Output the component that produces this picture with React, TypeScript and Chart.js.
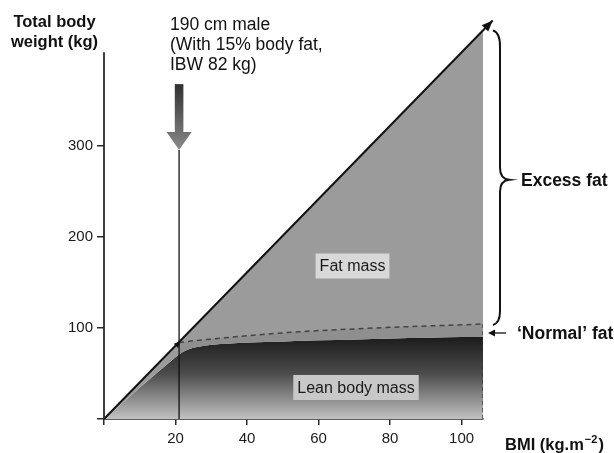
import { useEffect, useRef } from 'react';
import { Chart, registerables } from 'chart.js';

Chart.register(...registerables);

const FONT = '"Liberation Sans", Arial, Helvetica, sans-serif';

// Axis ticks
const xTicks = [0, 20, 40, 60, 80, 100];
const yTicks = [0, 100, 200, 300];
const yAxisEnd = 403;

// Lean body mass curve (BMI -> kg)
const leanBmi = [0, 5, 10, 15, 19, 21, 23, 26, 30, 35, 40, 50, 60, 70, 80, 90, 100, 106];
const leanKg = [0, 17, 34.5, 51.5, 64.5, 71, 75.5, 79, 81.5, 83, 84, 85.3, 86.5, 87.5, 88.4, 89.2, 90, 90.4];

// 'Normal' fat upper boundary (dashed)
const normalFatBmi = [21, 25, 30, 40, 55, 70, 85, 100, 106];
const normalFatKg = [84, 86, 87.8, 91.5, 96, 99, 101.5, 103.5, 104.4];

// Total body weight (fat mass upper edge)
const totalBmi = [0, 106];
const totalKg = [0, 427];

// Diagonal arrow line
const diagonalBmi = [0, 108.7];
const diagonalKg = [0, 438];

// 190 cm male marker
const markerBmi = [21, 21];
const markerKg = [0, 295.5];

// Right dashed edge of the lean region
const edgeBmi = [106, 106];
const edgeKg = [104.4, 0];

const pts = (xs: number[], ys: number[]) => xs.map((x, i) => ({ x, y: ys[i] }));

const annotations = {
  id: 'annotations',
  afterDraw(chart: any) {
    const { ctx, scales } = chart;
    const xs = scales.x;
    const ys = scales.y;
    const X = (v: number) => xs.getPixelForValue(v);
    const Y = (v: number) => ys.getPixelForValue(v);
    ctx.save();

    // y axis line
    ctx.strokeStyle = '#2a2a2a';
    ctx.lineWidth = 1.8;
    ctx.beginPath();
    ctx.moveTo(X(0), Y(0) + 0.9);
    ctx.lineTo(X(0), Y(yAxisEnd));
    ctx.stroke();

    // arrowhead on diagonal
    const dm = chart.getDatasetMeta(0).data;
    const p0 = dm[0];
    const p1 = dm[dm.length - 1];
    const ang = Math.atan2(p1.y - p0.y, p1.x - p0.x);
    const drawHead = (tx: number, ty: number, a: number, len: number, hw: number) => {
      ctx.beginPath();
      ctx.moveTo(tx, ty);
      ctx.lineTo(tx - len * Math.cos(a) + hw * Math.sin(a), ty - len * Math.sin(a) - hw * Math.cos(a));
      ctx.lineTo(tx - len * Math.cos(a) - hw * Math.sin(a), ty - len * Math.sin(a) + hw * Math.cos(a));
      ctx.closePath();
      ctx.fill();
    };
    ctx.fillStyle = '#111';
    drawHead(p1.x, p1.y, ang, 11, 4.5);

    // small marker at start of normal fat line
    drawHead(X(normalFatBmi[0]) + 1, Y(normalFatKg[0]) - 1, ang, 6, 3);

    // big grey arrow above 190 cm marker
    const ax = X(markerBmi[0]);
    const tipY = Y(markerKg[1]);
    const headTop = tipY - 18;
    const shaftTop = tipY - 66;
    const sg = ctx.createLinearGradient(0, shaftTop, 0, headTop);
    sg.addColorStop(0, '#303030');
    sg.addColorStop(1, '#727272');
    ctx.fillStyle = sg;
    ctx.fillRect(ax - 4.3, shaftTop, 8.6, headTop - shaftTop + 1);
    const hg = ctx.createLinearGradient(0, headTop, 0, tipY);
    hg.addColorStop(0, '#707070');
    hg.addColorStop(1, '#8c8c8c');
    ctx.fillStyle = hg;
    ctx.beginPath();
    ctx.moveTo(ax - 12.5, headTop);
    ctx.lineTo(ax + 12.5, headTop);
    ctx.lineTo(ax, tipY);
    ctx.closePath();
    ctx.fill();

    // brace for excess fat
    const bx = X(106) + 17;
    const bTop = Y(totalKg[1]);
    const bBot = Y(normalFatKg[normalFatKg.length - 1]) + 1;
    const bMid = (bTop + bBot) / 2 + 2;
    ctx.strokeStyle = '#111';
    ctx.lineWidth = 2;
    ctx.beginPath();
    ctx.moveTo(bx - 7, bTop);
    ctx.quadraticCurveTo(bx, bTop + 2, bx, bTop + 16);
    ctx.lineTo(bx, bMid - 12);
    ctx.quadraticCurveTo(bx, bMid - 1, bx + 9, bMid);
    ctx.quadraticCurveTo(bx, bMid + 1, bx, bMid + 12);
    ctx.lineTo(bx, bBot - 14);
    ctx.quadraticCurveTo(bx, bBot - 2, bx - 7, bBot);
    ctx.stroke();

    // arrow to 'Normal' fat
    const ny = 333;
    ctx.lineWidth = 1.3;
    ctx.beginPath();
    ctx.moveTo(X(106) + 23, ny);
    ctx.lineTo(X(106) + 8, ny);
    ctx.stroke();
    ctx.fillStyle = '#111';
    drawHead(X(106) + 5, ny, Math.PI, 7, 3.5);

    // texts
    ctx.fillStyle = '#111';
    ctx.textBaseline = 'alphabetic';
    ctx.font = `bold 16.5px ${FONT}`;
    ctx.textAlign = 'center';
    ctx.fillText('Total body', 54.5, 27);
    ctx.fillText('weight (kg)', 54.5, 46.5);

    ctx.textAlign = 'left';
    ctx.font = `17.5px ${FONT}`;
    ctx.fillText('190 cm male', 170, 29.5);
    ctx.fillText('(With 15% body fat,', 170, 49.5);
    ctx.fillText('IBW 82 kg)', 170, 69.5);

    ctx.font = `bold 17.5px ${FONT}`;
    ctx.fillText('Excess fat', 521, 186);
    ctx.fillText('\u2018Normal\u2019 fat', 517, 339);

    ctx.font = `bold 16.5px ${FONT}`;
    let tx = 505;
    ctx.fillText('BMI (kg.m', tx, 450);
    tx += ctx.measureText('BMI (kg.m').width + 1;
    ctx.font = `bold 11px ${FONT}`;
    ctx.fillText('\u22122', tx, 443);
    tx += ctx.measureText('\u22122').width + 1;
    ctx.font = `bold 16.5px ${FONT}`;
    ctx.fillText(')', tx, 450);

    // boxed region labels
    const boxLabel = (text: string, cx: number, cy: number, fill: string) => {
      ctx.font = `16px ${FONT}`;
      const w = ctx.measureText(text).width;
      ctx.fillStyle = fill;
      ctx.fillRect(cx - w / 2 - 4, cy - 12.5, w + 8, 25);
      ctx.fillStyle = '#1a1a1a';
      ctx.textAlign = 'center';
      ctx.textBaseline = 'middle';
      ctx.fillText(text, cx, cy + 1);
    };
    boxLabel('Fat mass', 352.5, 266, '#d8d8d8');
    boxLabel('Lean body mass', 356, 387.5, '#c8c8c8');

    ctx.restore();
  },
};

export default function App() {
  const ref = useRef<HTMLCanvasElement>(null);

  useEffect(() => {
    document.body.style.margin = '0';
    const canvas = ref.current;
    if (!canvas) return;

    const leanGradient = (c: any) => {
      const chart = c.chart;
      if (!chart.chartArea) return '#555';
      const ys = chart.scales.y;
      const g = chart.ctx.createLinearGradient(0, ys.getPixelForValue(90), 0, ys.getPixelForValue(0));
      g.addColorStop(0, '#1c1c1c');
      g.addColorStop(0.45, '#4c4c4c');
      g.addColorStop(1, '#c2c2c2');
      return g;
    };

    const tickFont = { size: 15, family: FONT };

    const chart = new Chart(canvas, {
      type: 'line',
      data: {
        datasets: [
          {
            label: 'Total body weight',
            data: pts(diagonalBmi, diagonalKg),
            borderColor: '#111',
            borderWidth: 2,
            pointRadius: 0,
            fill: false,
            clip: false,
          } as any,
          {
            label: '190 cm male',
            data: pts(markerBmi, markerKg),
            borderColor: '#111',
            borderWidth: 1.3,
            pointRadius: 0,
            fill: false,
          },
          {
            label: 'edge',
            data: pts(edgeBmi, edgeKg),
            borderColor: '#333',
            borderWidth: 1.2,
            borderDash: [4, 3],
            pointRadius: 0,
            fill: false,
          },
          {
            label: "'Normal' fat",
            data: pts(normalFatBmi, normalFatKg),
            borderColor: '#444',
            borderWidth: 1.5,
            borderDash: [5, 4],
            pointRadius: 0,
            cubicInterpolationMode: 'monotone',
            fill: 5,
            backgroundColor: '#8f8f8f',
          },
          {
            label: 'Fat mass',
            data: pts(totalBmi, totalKg),
            borderWidth: 0,
            borderColor: 'rgba(0,0,0,0)',
            pointRadius: 0,
            fill: 5,
            backgroundColor: '#9b9b9b',
          },
          {
            label: 'Lean body mass',
            data: pts(leanBmi, leanKg),
            borderWidth: 0,
            borderColor: 'rgba(0,0,0,0)',
            pointRadius: 0,
            cubicInterpolationMode: 'monotone',
            fill: 'origin',
            backgroundColor: leanGradient,
          },
        ],
      },
      options: {
        responsive: false,
        animation: false,
        events: [],
        layout: { padding: { top: 15, right: 131, bottom: 0, left: 0 } },
        plugins: {
          legend: { display: false },
          tooltip: { enabled: false },
          title: { display: false },
        },
        scales: {
          x: {
            type: 'linear',
            min: 0,
            max: 106,
            afterBuildTicks: (s: any) => {
              s.ticks = xTicks.map((v) => ({ value: v }));
            },
            afterFit: (s: any) => {
              s.height = 34;
            },
            grid: { drawOnChartArea: false, drawTicks: true, tickLength: 6, color: '#2a2a2a', lineWidth: 1.5 },
            border: { display: true, color: '#2a2a2a', width: 1.8 },
            ticks: {
              color: '#1a1a1a',
              font: tickFont,
              padding: 5,
              maxRotation: 0,
              autoSkip: false,
              callback: (v: any) => (v === 0 ? '' : String(v)),
            },
          },
          y: {
            type: 'linear',
            min: 0,
            max: 444,
            afterBuildTicks: (s: any) => {
              s.ticks = yTicks.map((v) => ({ value: v }));
            },
            afterFit: (s: any) => {
              s.width = 104;
            },
            grid: { drawOnChartArea: false, drawTicks: true, tickLength: 7, color: '#2a2a2a', lineWidth: 1.5 },
            border: { display: false },
            ticks: {
              color: '#1a1a1a',
              font: tickFont,
              padding: 4,
              autoSkip: false,
              callback: (v: any) => (v === 0 ? '' : String(v)),
            },
          },
        },
      },
      plugins: [annotations],
    });

    return () => chart.destroy();
  }, []);

  return (
    <div style={{ position: 'absolute', left: 0, top: 0, width: 614, height: 453, background: '#fff' }}>
      <canvas ref={ref} width={614} height={453} style={{ display: 'block' }} />
    </div>
  );
}
